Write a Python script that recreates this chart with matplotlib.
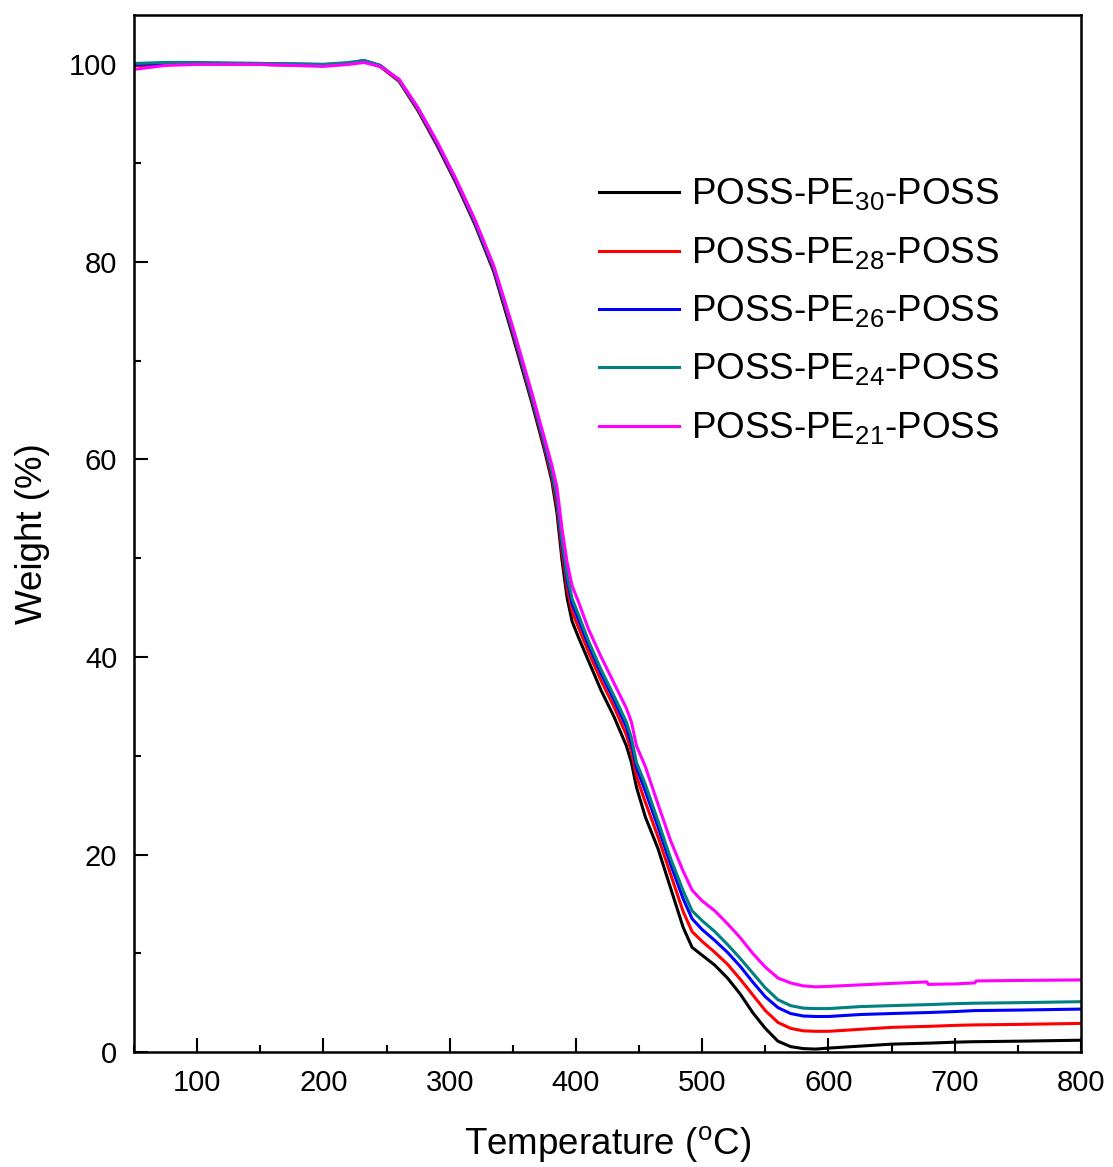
import numpy as np
import matplotlib.pyplot as plt
from matplotlib.ticker import MultipleLocator

plt.rcParams['font.family'] = ['Liberation Sans', 'DejaVu Sans']
plt.rcParams['mathtext.fontset'] = 'custom'
plt.rcParams['mathtext.rm'] = 'Liberation Sans'

# temperature grid (deg C)
temp = [50, 75, 100, 150, 200, 220, 232, 245, 260, 275, 290, 305, 320, 335,
        350, 365, 375, 381, 385, 389, 393, 397, 402, 410, 420, 430, 440, 444,
        448, 455, 465, 475, 485, 492, 500, 510, 520, 530, 540, 550, 560, 570,
        580, 590, 600, 625, 650, 678, 679, 700, 716, 717, 750, 800]

pe30 = [99.9, 100.0, 100.1, 100.0, 99.9, 100.1, 100.3, 99.8, 98.3, 95.3, 91.8,
        88.0, 83.8, 79.0, 72.5, 65.8, 61.0, 57.8, 54.6, 49.8, 46.0, 43.6, 42.0,
        39.6, 36.6, 34.0, 31.0, 29.3, 26.8, 23.8, 20.6, 16.6, 12.6, 10.6, 9.8,
        8.8, 7.5, 5.9, 4.0, 2.4, 1.1, 0.55, 0.35, 0.3, 0.4, 0.6, 0.8, 0.9, 0.9,
        1.0, 1.05, 1.05, 1.1, 1.2]

pe28 = [99.9, 100.0, 100.1, 100.0, 99.9, 100.1, 100.3, 99.8, 98.3, 95.4, 91.9,
        88.1, 83.9, 79.2, 72.8, 66.1, 61.3, 58.2, 55.3, 50.7, 47.0, 44.6, 43.0,
        40.5, 37.6, 35.0, 32.1, 30.4, 27.9, 25.3, 21.8, 18.0, 14.2, 12.2, 11.2,
        10.1, 8.9, 7.4, 5.8, 4.2, 3.0, 2.4, 2.15, 2.1, 2.1, 2.3, 2.5, 2.6, 2.6,
        2.7, 2.75, 2.75, 2.8, 2.9]

pe26 = [100.0, 100.1, 100.1, 100.1, 100.0, 100.1, 100.4, 99.9, 98.4, 95.5, 92.0,
        88.2, 84.0, 79.3, 73.0, 66.3, 61.6, 58.6, 55.9, 51.4, 47.8, 45.4, 43.8,
        41.2, 38.3, 35.7, 32.9, 31.2, 28.8, 26.4, 22.8, 19.0, 15.5, 13.5, 12.4,
        11.3, 10.1, 8.7, 7.1, 5.6, 4.5, 3.9, 3.65, 3.6, 3.6, 3.8, 3.9, 4.0, 4.0,
        4.1, 4.2, 4.2, 4.25, 4.35]

pe24 = [100.1, 100.2, 100.2, 100.1, 100.0, 100.2, 100.4, 99.9, 98.4, 95.5, 92.1,
        88.3, 84.1, 79.4, 73.1, 66.4, 61.8, 58.8, 56.2, 51.8, 48.3, 45.9, 44.3,
        41.6, 38.7, 36.1, 33.4, 31.8, 29.3, 27.1, 23.4, 19.6, 16.3, 14.3, 13.3,
        12.2, 10.9, 9.5, 8.0, 6.5, 5.3, 4.7, 4.45, 4.4, 4.4, 4.6, 4.7, 4.8, 4.8,
        4.9, 4.95, 4.95, 5.0, 5.1]

pe21 = [99.5, 99.9, 100.0, 100.0, 99.8, 100.0, 100.2, 99.8, 98.5, 95.6, 92.2,
        88.4, 84.3, 79.6, 73.4, 66.8, 62.2, 59.4, 57.2, 53.0, 49.6, 47.2, 45.6,
        42.8, 40.0, 37.4, 34.8, 33.4, 31.0, 28.9, 25.1, 21.4, 18.3, 16.4, 15.3,
        14.3, 13.0, 11.6, 10.0, 8.6, 7.5, 7.0, 6.7, 6.6, 6.65, 6.8, 6.95, 7.1,
        6.85, 6.9, 7.0, 7.2, 7.25, 7.3]

series = [
    (pe30, 'black', r'POSS-PE$_\mathregular{30}$-POSS'),
    (pe28, 'red', r'POSS-PE$_\mathregular{28}$-POSS'),
    (pe26, 'blue', r'POSS-PE$_\mathregular{26}$-POSS'),
    (pe24, '#008080', r'POSS-PE$_\mathregular{24}$-POSS'),
    (pe21, 'magenta', r'POSS-PE$_\mathregular{21}$-POSS'),
]

fig = plt.figure(figsize=(11.13, 11.67), dpi=100)
ax = fig.add_axes([0.1204, 0.0985, 0.8508, 0.8886])

for vals, color, label in series:
    ax.plot(temp, vals, color=color, lw=2.2, label=label)

ax.set_xlim(50, 800)
ax.set_ylim(0, 105)
ax.xaxis.set_major_locator(MultipleLocator(100))
ax.xaxis.set_minor_locator(MultipleLocator(50))
ax.yaxis.set_major_locator(MultipleLocator(20))
ax.yaxis.set_minor_locator(MultipleLocator(10))
ax.tick_params(which='both', direction='in', top=False, right=False,
               width=1.5, labelsize=21)
ax.tick_params(which='major', length=10, pad=12)
ax.tick_params(which='minor', length=5)
for s in ax.spines.values():
    s.set_linewidth(1.8)

ax.set_xlabel(r'Temperature ($^\mathregular{o}$C)', fontsize=26.5, labelpad=20)
ax.set_ylabel('Weight (%)', fontsize=26.5, labelpad=14)

ax.legend(loc='upper left', bbox_to_anchor=(0.475, 0.858), frameon=False,
          fontsize=26.5, handlelength=2.2, handletextpad=0.32,
          labelspacing=0.6, borderaxespad=0)

fig.savefig('out.png', dpi=100)
